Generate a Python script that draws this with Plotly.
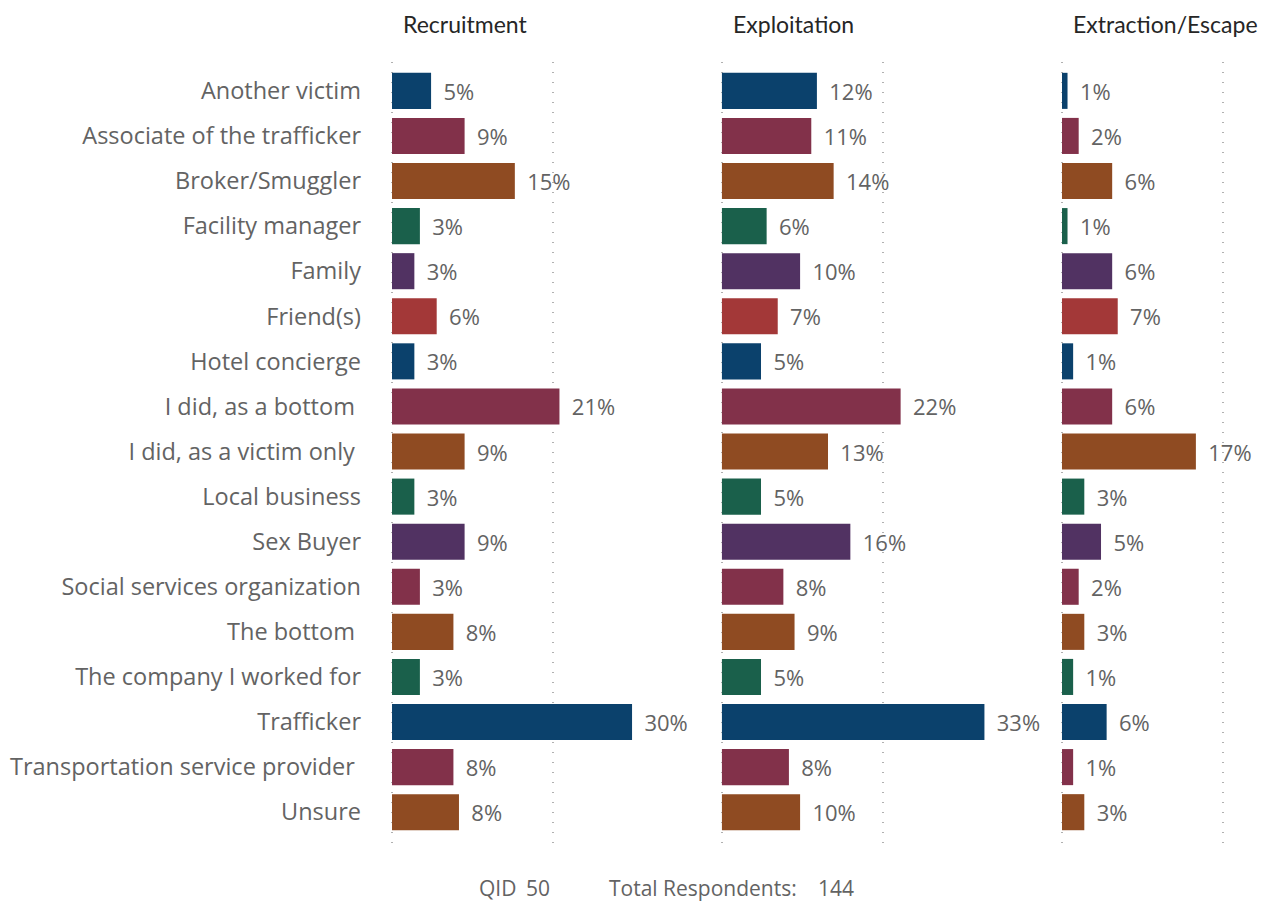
import plotly.graph_objects as go

categories = ["Another victim", "Associate of the trafficker", "Broker/Smuggler",
              "Facility manager", "Family", "Friend(s)", "Hotel concierge",
              "I did, as a bottom ", "I did, as a victim only ", "Local business",
              "Sex Buyer", "Social services organization", "The bottom ",
              "The company I worked for", "Trafficker",
              "Transportation service provider ", "Unsure"]

recruitment = [4.86, 9.03, 15.28, 3.47, 2.78, 5.56, 2.78, 20.83, 9.03, 2.78,
               9.03, 3.47, 7.64, 3.47, 29.86, 7.64, 8.33]
exploitation = [11.81, 11.11, 13.89, 5.56, 9.72, 6.94, 4.86, 22.22, 13.19, 4.86,
                15.97, 7.64, 9.03, 4.86, 32.64, 8.33, 9.72]
extraction = [0.69, 2.08, 6.25, 0.69, 6.25, 6.94, 1.39, 6.25, 16.67, 2.78,
              4.86, 2.08, 2.78, 1.39, 5.56, 1.39, 2.78]

panel_titles = ["Recruitment", "Exploitation", "Extraction/Escape"]
footer_texts = ["QID", "50", "Total Respondents:", "144"]

blue, maroon, brown, green, purple, red = "#0B416C", "#82314A", "#8F4B22", "#1A604B", "#513262", "#A33838"
bar_colors = [blue, maroon, brown, green, purple, red, blue, maroon, brown,
              green, purple, maroon, brown, green, blue, maroon, brown]

series = [recruitment, exploitation, extraction]
domains = [[0.0, 0.367], [0.3727, 0.75], [0.7534, 1.0]]
ranges = [[-2.24, 38.3], [-2.11, 39.55], [-2.36, 24.9]]

W, H = 1271, 901
L, R, T, B = 374, 9, 62, 55
pw, ph = W - L - R, H - T - B
grey = "#636363"


def px_x(x):
    return (x - L) / pw


def px_y(y):
    return 1 - (y - T) / ph


fig = go.Figure()
for i, vals in enumerate(series):
    ax = "x" if i == 0 else "x%d" % (i + 1)
    fig.add_trace(go.Bar(
        x=vals, y=categories, orientation="h", xaxis=ax, yaxis="y",
        marker=dict(color=bar_colors, line=dict(width=0)),
        width=0.8,
        text=["\u00a0\u2009%d%%" % round(v) for v in vals],
        textposition="outside", cliponaxis=False,
        textfont=dict(family="Open Sans", size=22, color=grey),
        showlegend=False, hoverinfo="x+y",
    ))

layout = dict(
    width=W, height=H,
    margin=dict(l=L, r=R, t=T, b=B),
    plot_bgcolor="white", paper_bgcolor="white",
    font=dict(family="Open Sans", color=grey),
    bargap=0.2,
    yaxis=dict(
        range=[16.75, -0.64], showgrid=False, zeroline=False, showline=False,
        ticks="", ticklabelstandoff=12,
        tickfont=dict(family="Open Sans", size=23.5, color=grey),
        anchor="x",
    ),
)
for i in range(3):
    key = "xaxis" if i == 0 else "xaxis%d" % (i + 1)
    layout[key] = dict(
        domain=domains[i], range=ranges[i], anchor="y",
        tickvals=[ranges[i][0], 0, 20], showticklabels=False, ticks="",
        showgrid=True, gridcolor="#b0b0b0", gridwidth=1.5, griddash="1px,9px",
        zeroline=False, showline=False,
    )

annotations = []
for t, cx in zip(panel_titles, [465, 793, 1165]):
    annotations.append(dict(
        text=t, xref="paper", yref="paper", x=px_x(cx), y=px_y(24),
        xanchor="center", yanchor="middle",
        showarrow=False, font=dict(family="Lato", size=23, color="#262626"),
    ))
for txt, lx in zip(footer_texts, [477, 524, 607, 816]):
    annotations.append(dict(
        text=txt, xref="paper", yref="paper", x=px_x(lx), y=px_y(888),
        xanchor="left", yanchor="middle", showarrow=False,
        font=dict(family="Open Sans", size=21, color=grey),
    ))
layout["annotations"] = annotations

fig.update_layout(**layout)
config = dict(displayModeBar=False, displaylogo=False)
# drop the default body margin so the 1271x901 figure fills the window exactly
fig.write_html("out.html", config=config,
               post_script="document.body.style.margin='0';document.body.style.overflow='hidden';")
